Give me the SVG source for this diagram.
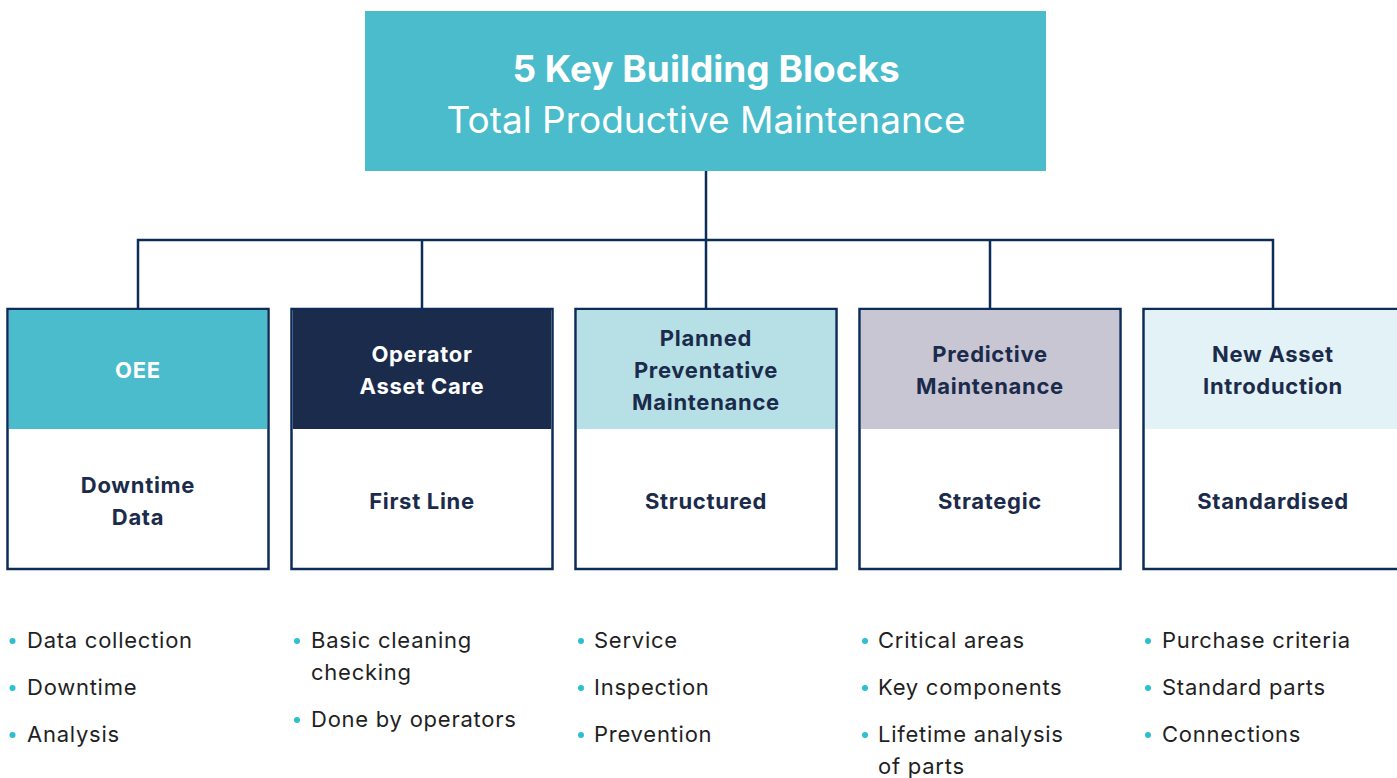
<svg xmlns="http://www.w3.org/2000/svg" width="1397" height="778" viewBox="0 0 1397 778">
<style>
  .frame{fill:#ffffff;stroke:#0c2d5a;stroke-width:2.5}
  .conn{fill:none;stroke:#0c2d5a;stroke-width:2.5}
  .hd{font-family:Inter,"Liberation Sans",sans-serif;font-weight:700;font-size:22px;letter-spacing:0.7px;text-anchor:middle}
  .bd{font-family:Inter,"Liberation Sans",sans-serif;font-weight:700;font-size:22px;letter-spacing:0.7px;text-anchor:middle;fill:#1b2b4b}
  .li{font-family:Inter,"Liberation Sans",sans-serif;font-size:22px;letter-spacing:0.75px;fill:#1f1f24}
  .dot{fill:#2cbfd0}
  .t1{font-family:Inter,"Liberation Sans",sans-serif;font-weight:700;font-size:37px;fill:#ffffff;text-anchor:middle}
  .t2{font-family:Inter,"Liberation Sans",sans-serif;font-size:37px;fill:#ffffff;text-anchor:middle}
</style>
<rect width="1397" height="778" fill="#ffffff"/>
<g id="connectors">
  <path class="conn" d="M706 171 V240 M138 308 V240 H1273 V308 M422 240 V308 M706 240 V308 M990 240 V308"/>
</g>
<g id="root">
  <rect x="365" y="11" width="681" height="160" fill="#4abccb"/>
  <text class="t1" x="706" y="82">5 Key Building Blocks</text>
  <text class="t2" x="706" y="133">Total Productive Maintenance</text>
</g>
<g id="oee">
  <rect class="frame" x="7.5" y="309" width="261" height="260"/>
  <rect x="9" y="310" width="258" height="119" fill="#4abccb"/>
  <text class="hd" x="138" y="378" fill="#ffffff">OEE</text>
  <text class="bd" x="138" y="493">Downtime</text>
  <text class="bd" x="138" y="525">Data</text>
  <circle class="dot" cx="12.5" cy="641" r="3"/><text class="li" x="27" y="648">Data collection</text>
  <circle class="dot" cx="12.5" cy="688" r="3"/><text class="li" x="27" y="695">Downtime</text>
  <circle class="dot" cx="12.5" cy="735" r="3"/><text class="li" x="27" y="742">Analysis</text>
</g>
<g id="operator-asset-care">
  <rect class="frame" x="291.5" y="309" width="261" height="260"/>
  <rect x="293" y="310" width="258" height="119" fill="#1b2b4b"/>
  <text class="hd" x="422" y="362" fill="#ffffff">Operator</text>
  <text class="hd" x="422" y="394" fill="#ffffff">Asset Care</text>
  <text class="bd" x="422" y="509">First Line</text>
  <circle class="dot" cx="297" cy="641" r="3"/><text class="li" x="311" y="648">Basic cleaning</text>
  <text class="li" x="311" y="680">checking</text>
  <circle class="dot" cx="297" cy="720" r="3"/><text class="li" x="311" y="727">Done by operators</text>
</g>
<g id="planned-preventative-maintenance">
  <rect class="frame" x="575.5" y="309" width="261" height="260"/>
  <rect x="577" y="310" width="258" height="119" fill="#b6e0e5"/>
  <text class="hd" x="706" y="346" fill="#1b2b4b">Planned</text>
  <text class="hd" x="706" y="378" fill="#1b2b4b">Preventative</text>
  <text class="hd" x="706" y="410" fill="#1b2b4b">Maintenance</text>
  <text class="bd" x="706" y="509">Structured</text>
  <circle class="dot" cx="581" cy="641" r="3"/><text class="li" x="594" y="648">Service</text>
  <circle class="dot" cx="581" cy="688" r="3"/><text class="li" x="594" y="695">Inspection</text>
  <circle class="dot" cx="581" cy="735" r="3"/><text class="li" x="594" y="742">Prevention</text>
</g>
<g id="predictive-maintenance">
  <rect class="frame" x="859.5" y="309" width="261" height="260"/>
  <rect x="861" y="310" width="258" height="119" fill="#c9c6d4"/>
  <text class="hd" x="990" y="362" fill="#1b2b4b">Predictive</text>
  <text class="hd" x="990" y="394" fill="#1b2b4b">Maintenance</text>
  <text class="bd" x="990" y="509">Strategic</text>
  <circle class="dot" cx="865" cy="641" r="3"/><text class="li" x="878" y="648">Critical areas</text>
  <circle class="dot" cx="865" cy="688" r="3"/><text class="li" x="878" y="695">Key components</text>
  <circle class="dot" cx="865" cy="735" r="3"/><text class="li" x="878" y="742">Lifetime analysis</text>
  <text class="li" x="878" y="774">of parts</text>
</g>
<g id="new-asset-introduction">
  <rect class="frame" x="1143.5" y="309" width="261" height="260"/>
  <rect x="1145" y="310" width="258" height="119" fill="#e3f2f6"/>
  <text class="hd" x="1273" y="362" fill="#1b2b4b">New Asset</text>
  <text class="hd" x="1273" y="394" fill="#1b2b4b">Introduction</text>
  <text class="bd" x="1273" y="509">Standardised</text>
  <circle class="dot" cx="1148" cy="641" r="3"/><text class="li" x="1162" y="648">Purchase criteria</text>
  <circle class="dot" cx="1148" cy="688" r="3"/><text class="li" x="1162" y="695">Standard parts</text>
  <circle class="dot" cx="1148" cy="735" r="3"/><text class="li" x="1162" y="742">Connections</text>
</g>
</svg>
